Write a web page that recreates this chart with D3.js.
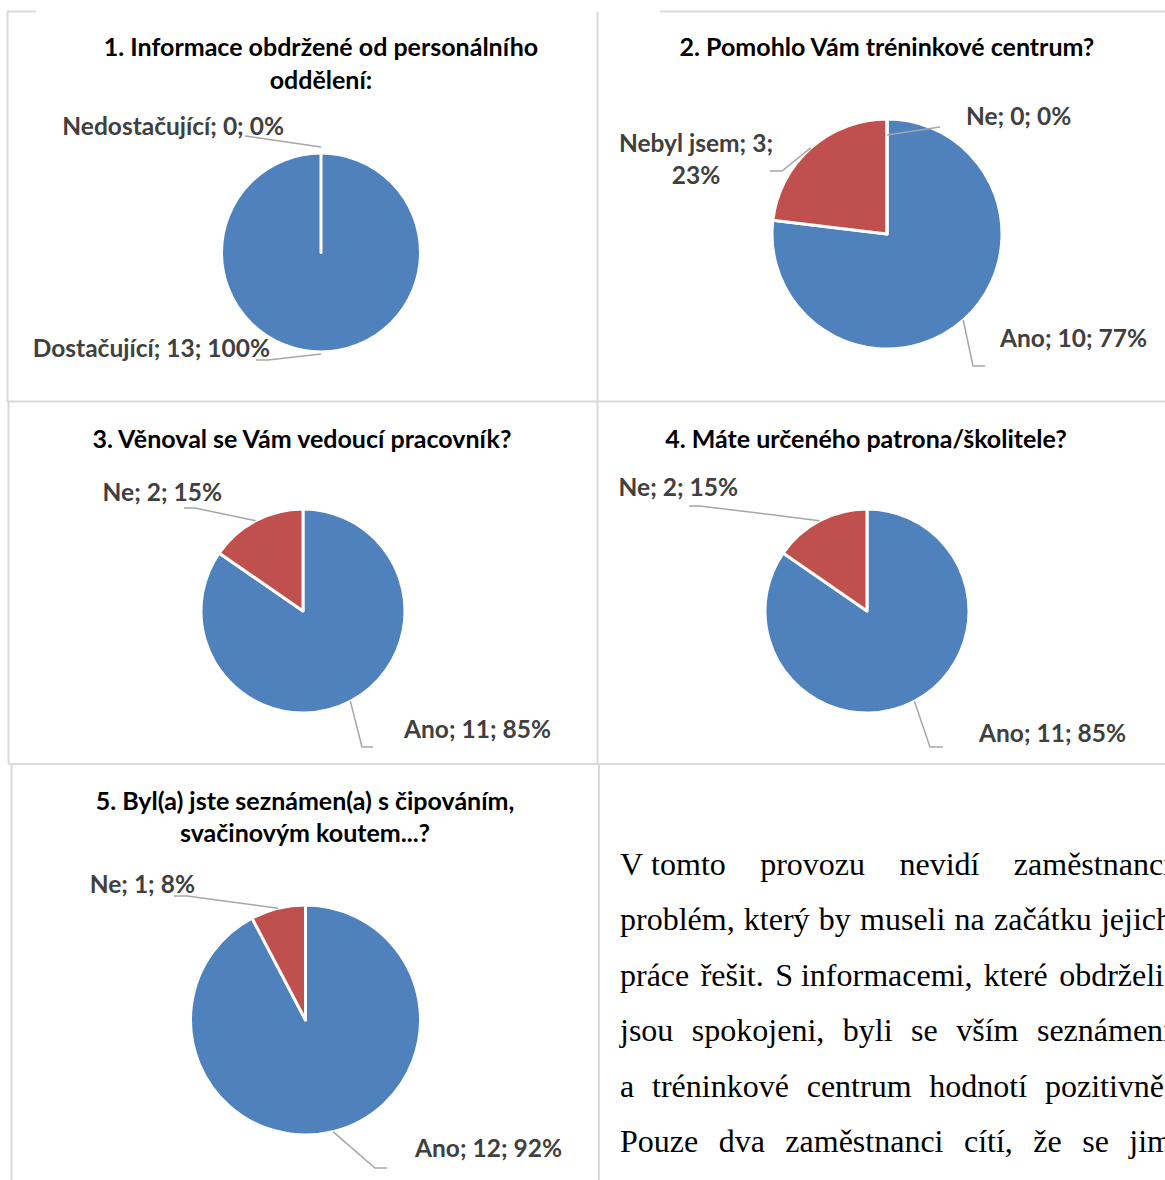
<!DOCTYPE html>
<html>
<head>
<meta charset="utf-8">
<script src="https://cdn.jsdelivr.net/npm/d3@7"></script>
<style>
  html, body { margin: 0; padding: 0; background: #fff; overflow: hidden; }
  svg { display: block; }
</style>
</head>
<body>
<svg id="chart" width="1165" height="1180"></svg>
<script>
// ---- survey answers (13 respondents) ----
const titles = [
  ["1. Informace obdržené od personálního", "oddělení:"],
  ["2. Pomohlo Vám tréninkové centrum?"],
  ["3. Věnoval se Vám vedoucí pracovník?"],
  ["4. Máte určeného patrona/školitele?"],
  ["5. Byl(a) jste seznámen(a) s čipováním,", "svačinovým koutem...?"]
];
const categories = [
  ["Dostačující", "Nedostačující"],
  ["Ano", "Nebyl jsem", "Ne"],
  ["Ano", "Ne"],
  ["Ano", "Ne"],
  ["Ano", "Ne"]
];
const values = [
  [13, 0],
  [10, 3, 0],
  [11, 2],
  [11, 2],
  [12, 1]
];
const sliceColors = ["#4f81bd", "#c0504d", "#9bbb59"];

const paragraphLines = [
  "V\u00a0tomto provozu nevidí zaměstnanci",
  "problém, který by museli na začátku jejich",
  "práce řešit. S\u00a0informacemi, které obdrželi,",
  "jsou spokojeni, byli se vším seznámeni",
  "a tréninkové centrum hodnotí pozitivně.",
  "Pouze dva zaměstnanci cítí, že se jim"
];

// ---- page layout ----
const sans = "Lato, 'Open Sans', sans-serif";
const serif = "'Liberation Serif', 'Times New Roman', serif";
const titleSize = 25, labelSize = 24.5;

const panels = [
  { cx: 321, cy: 252.5, r: 99.5, titleX: 321, titleY: [56, 89], labels: [
      { x: 270, y: 357, anchor: "end", path: [[256, 360], [268, 360]], k: 1.02 },
      { x: 284, y: 135, anchor: "end", path: [[245, 136]], k: 1.06 } ] },
  { cx: 887, cy: 234, r: 115, titleX: 887, titleY: [56], labels: [
      { x: 1000, y: 347, anchor: "start", path: [[985, 366], [973, 366]], k: 1 },
      { x: 696, y: 152, anchor: "middle", wrap: true, lineGap: 32, path: [[770, 171], [782, 171]], k: 1 },
      { x: 966, y: 125, anchor: "start", path: [[940, 127]], k: 0.86 } ] },
  { cx: 303, cy: 611, r: 102, titleX: 302, titleY: [448], labels: [
      { x: 404, y: 738, anchor: "start", path: [[373, 747], [362, 747]], k: 1 },
      { x: 222, y: 501, anchor: "end", path: [[184, 508], [195, 508]], k: 1 } ] },
  { cx: 867, cy: 611, r: 102, titleX: 866, titleY: [448], labels: [
      { x: 979, y: 742, anchor: "start", path: [[943, 747], [930, 747]], k: 1 },
      { x: 738, y: 496, anchor: "end", path: [[689, 506], [700, 506]], k: 1 } ] },
  { cx: 305.5, cy: 1020, r: 115, titleX: 305, titleY: [810, 842], labels: [
      { x: 415, y: 1157, anchor: "start", path: [[387, 1168], [375, 1168]], k: 1 },
      { x: 195, y: 893, anchor: "end", path: [[174, 896], [187, 896]], k: 1 } ] }
];

const rules = [
  [[7, 11.5], [36, 11.5]], [[660, 11.5], [1165, 11.5]],
  [[7.5, 11.5], [7.5, 402]], [[597.5, 11.5], [597.5, 764]], [[599, 764], [599, 1180]],
  [[7.5, 401.5], [1165, 401.5]], [[8.5, 401.5], [8.5, 764]],
  [[8.5, 764], [1165, 764]], [[11.5, 764], [11.5, 1180]]
];

const svg = d3.select("#chart");

// panel frame lines
svg.append("g").selectAll("line").data(rules).join("line")
  .attr("x1", d => d[0][0]).attr("y1", d => d[0][1])
  .attr("x2", d => d[1][0]).attr("y2", d => d[1][1])
  .attr("stroke", "#d9d9d9").attr("stroke-width", 2);

const pie = d3.pie().sort(null).value(d => d).startAngle(0).endAngle(2 * Math.PI);
const lineGen = d3.line();

panels.forEach((p, i) => {
  const vals = values[i];
  const total = d3.sum(vals);
  const arcs = pie(vals);
  const g = svg.append("g").attr("class", "panel");

  // title
  g.selectAll("text.title").data(titles[i]).join("text")
    .attr("class", "title")
    .attr("x", p.titleX).attr("y", (d, j) => p.titleY[j])
    .attr("text-anchor", "middle")
    .attr("font-family", sans).attr("font-weight", 700)
    .attr("font-size", titleSize).attr("fill", "#000")
    .text(d => d);

  // slices
  const arc = d3.arc().innerRadius(0).outerRadius(p.r);
  g.append("g").attr("transform", `translate(${p.cx},${p.cy})`)
    .selectAll("path").data(arcs).join("path")
    .attr("d", arc)
    .attr("fill", (d, j) => sliceColors[j])
    .attr("stroke", "#fff").attr("stroke-width", 3).attr("stroke-linejoin", "round");

  // leader lines
  arcs.forEach((a, j) => {
    const L = p.labels[j];
    const edge = d3.arc().innerRadius(p.r * L.k).outerRadius(p.r * L.k).centroid(a);
    const pts = L.path.concat([[p.cx + edge[0], p.cy + edge[1]]]);
    g.append("path").attr("d", lineGen(pts))
      .attr("fill", "none").attr("stroke", "#a6a6a6").attr("stroke-width", 1.5);
  });

  // data labels: "category; value; percent"
  arcs.forEach((a, j) => {
    const L = p.labels[j];
    const pct = Math.round(a.data / total * 100) + "%";
    const head = `${categories[i][j]}; ${a.data};`;
    const lines = L.wrap ? [head, pct] : [`${head} ${pct}`];
    g.append("g").selectAll("text").data(lines).join("text")
      .attr("x", L.x).attr("y", (d, m) => L.y + m * (L.lineGap || 0))
      .attr("text-anchor", L.anchor)
      .attr("font-family", sans).attr("font-weight", 700)
      .attr("font-size", labelSize).attr("fill", "#404040")
      .text(d => d);
  });
});

// justified paragraph beside the last chart
const textLeft = 620, textRight = 1172, baseline0 = 875, leading = 55.4, textSize = 32;
const para = svg.append("g").attr("font-family", serif).attr("font-size", textSize).attr("fill", "#000");
paragraphLines.forEach((line, li) => {
  const words = line.split(" ");
  const y = baseline0 + li * leading;
  const nodes = words.map(w => para.append("text").attr("y", y).text(w));
  const widths = nodes.map(n => n.node().getComputedTextLength());
  const gap = words.length > 1 ? (textRight - textLeft - d3.sum(widths)) / (words.length - 1) : 0;
  let x = textLeft;
  nodes.forEach((n, k) => { n.attr("x", x); x += widths[k] + gap; });
});
</script>
</body>
</html>
